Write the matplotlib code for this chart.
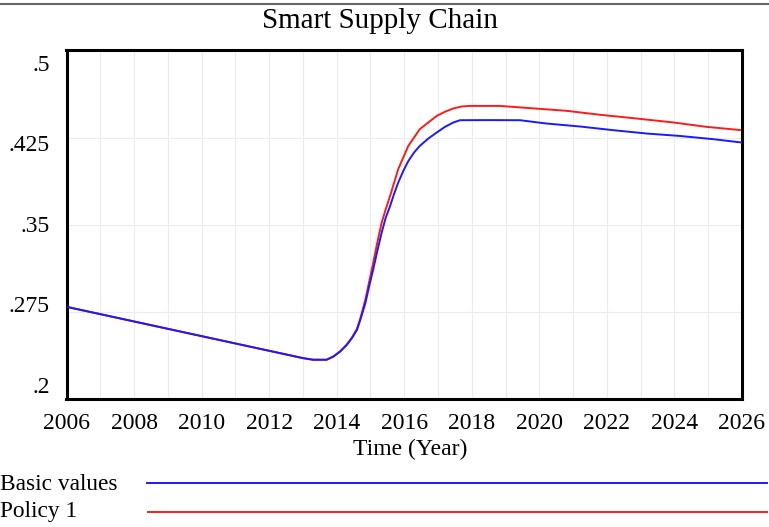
import matplotlib.pyplot as plt
from matplotlib.lines import Line2D

plt.rcParams["font.family"] = ["Liberation Serif", "DejaVu Serif"]

# Data
basic_years = [2006, 2007, 2008, 2009, 2010, 2011, 2012, 2013, 2013.3, 2013.7,
               2013.9, 2014.1, 2014.3, 2014.45, 2014.6, 2014.7, 2014.85, 2014.96,
               2015.08, 2015.2, 2015.33, 2015.45, 2015.58, 2015.7, 2015.82,
               2015.97, 2016.12, 2016.29, 2016.46, 2016.71, 2016.96, 2017.2,
               2017.45, 2017.65, 2018.5, 2019.43, 2020.2, 2021.2, 2022.2,
               2023.2, 2024.15, 2025.15, 2026]
basic_values = [0.2795, 0.2732, 0.2669, 0.2606, 0.2543, 0.2480, 0.2417, 0.2354,
                0.2340, 0.2340, 0.2367, 0.2410, 0.2468, 0.2526, 0.2597, 0.2684,
                0.2828, 0.2971, 0.3115, 0.3272, 0.3431, 0.3560, 0.3660, 0.3767,
                0.3862, 0.3962, 0.4048, 0.4121, 0.4178, 0.4241, 0.4293, 0.4341,
                0.4379, 0.4399, 0.4400, 0.4399, 0.4371, 0.4345, 0.4313, 0.4284,
                0.4264, 0.4236, 0.4207]

policy_years = [2006, 2007, 2008, 2009, 2010, 2011, 2012, 2013, 2013.3, 2013.7,
                2013.9, 2014.1, 2014.3, 2014.45, 2014.6, 2014.7, 2014.85,
                2015.08, 2015.2, 2015.33, 2015.45, 2015.58, 2015.7, 2015.82,
                2015.97, 2016.12, 2016.29, 2016.46, 2016.71, 2016.96, 2017.2,
                2017.45, 2017.7, 2017.94, 2018.83, 2019.72, 2020.8, 2021.79,
                2022.77, 2023.96, 2024.95, 2026]
policy_values = [0.2795, 0.2732, 0.2669, 0.2606, 0.2543, 0.2480, 0.2417, 0.2354,
                 0.2340, 0.2340, 0.2368, 0.2412, 0.2471, 0.2530, 0.2605, 0.2695,
                 0.2859, 0.3172, 0.3345, 0.3517, 0.3632, 0.3747, 0.3862, 0.3977,
                 0.4078, 0.4178, 0.4250, 0.4322, 0.4379, 0.4436, 0.4471, 0.4500,
                 0.4517, 0.4522, 0.4522, 0.4503, 0.4480, 0.4446, 0.4417, 0.4380,
                 0.4342, 0.4313]

x_ticks = list(range(2006, 2027, 2))
y_ticks = [0.2, 0.275, 0.35, 0.425, 0.5]
y_tick_labels = [".2", ".275", ".35", ".425", ".5"]

fig = plt.figure(figsize=(7.69, 5.27), dpi=100)
ax = fig.add_axes([66.5 / 769, 1 - 399.3 / 527, (742 - 66.5) / 769, (399.3 - 50.3) / 527])

ax.plot(basic_years, basic_values, color="#1a1aff", linewidth=1.4, zorder=3)
ax.plot(policy_years, policy_values, color="#ff1a1a", linewidth=1.4, zorder=2)

ax.set_xlim(2006, 2026)
ax.set_ylim(0.2, 0.5)
ax.set_xticks(x_ticks)
ax.set_xticks(range(2006, 2027), minor=True)
ax.set_yticks(y_ticks)
ax.set_yticklabels([])
ax.tick_params(axis="both", which="both", length=0)
ax.tick_params(axis="x", labelsize=17, pad=10)
ax.grid(True, which="both", color="#ececec", linewidth=0.8)
ax.set_axisbelow(True)
for spine in ax.spines.values():
    spine.set_linewidth(2.2)

# Vensim spreads the y labels evenly over the axis height
for i, lab in enumerate(y_tick_labels):
    ax.text(-0.025, 0.034 + i * 0.2308, lab, transform=ax.transAxes,
            ha="right", va="center", fontsize=17)

ax.set_xlabel("Time (Year)", fontsize=17, va="center")
ax.xaxis.set_label_coords(0.5085, -0.145)
fig.text(0.494, 1 - 21 / 527, "Smart Supply Chain", ha="center", va="center", fontsize=21)

# top rule
fig.add_artist(Line2D([0, 1], [1 - 4 / 527, 1 - 4 / 527], color="#666666", linewidth=1.5))

# legend rows
fig.text(0.0, 1 - 485 / 527, "Basic values", ha="left", va="center", fontsize=16.8)
fig.add_artist(Line2D([147 / 769, 767 / 769], [1 - 483 / 527] * 2, color="#1a1aff", linewidth=1.4))
fig.text(0.0, 1 - 511 / 527, "Policy 1", ha="left", va="center", fontsize=16.8)
fig.add_artist(Line2D([148 / 769, 767 / 769], [1 - 512 / 527] * 2, color="#ff1a1a", linewidth=1.4))

fig.savefig("out.png", dpi=100)
